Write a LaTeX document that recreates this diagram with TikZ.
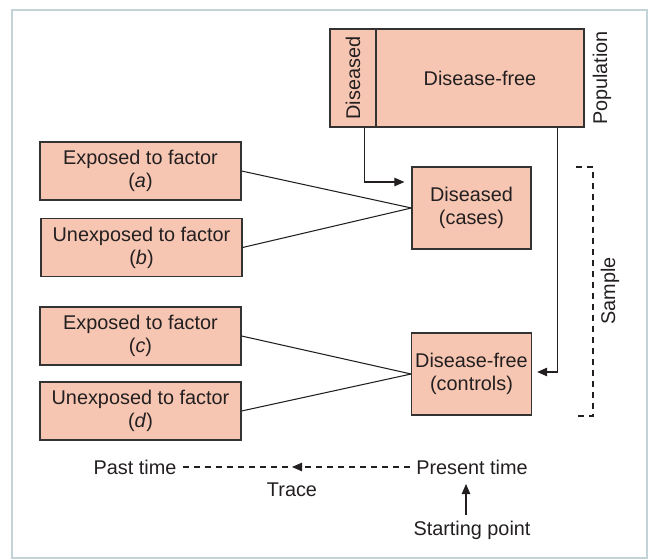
\documentclass[tikz,border=0pt]{standalone}
\usepackage{fontspec}
\setmainfont{Liberation Sans}
\usepackage{tikz}
\usetikzlibrary{arrows.meta}
\definecolor{boxfill}{HTML}{F6C6B2}
\definecolor{boxline}{HTML}{333333}
\definecolor{framecol}{HTML}{C3D3D8}
\definecolor{inkcol}{HTML}{231F20}

\begin{document}
\begin{tikzpicture}[x=0.02cm, y=-0.02cm, font=\fontsize{11.3}{13}\selectfont, text=inkcol,
    box/.style={draw=boxline, fill=boxfill, line width=0.7pt, align=center, inner sep=2pt},
    factorbox/.style={box, minimum width=4.02cm, minimum height=1.16cm},
    groupbox/.style={box, minimum width=2.38cm, minimum height=1.64cm},
    arr/.style={-{Triangle[length=2mm, width=1.7mm]}, line width=0.6pt, draw=inkcol},
    link/.style={line width=0.6pt, draw=inkcol},
    dash line/.style={dash pattern=on 0.12cm off 0.1cm, line width=0.6pt, draw=inkcol}]

                \useasboundingbox (0,0) rectangle (649,560);
                \draw[framecol, line width=1.2pt] (12,10) rectangle (647,558);

                % Nodes
                \node at (353,78) (dis) [box, minimum width=0.92cm, minimum height=1.96cm] {\rotatebox{90}{Diseased}};
                \node at (480,78) (free) [box, minimum width=4.16cm, minimum height=1.96cm] {Disease-free};
                \node at (602,78) (pop) [rotate=90] {Population};

                \node at (140.5,171) (a) [factorbox] {Exposed to factor\\(\textit{a})};
                \node at (141.5,247.5) (b) [factorbox] {Unexposed to factor\\(\textit{b})};
                \node at (140.5,336) (c) [factorbox] {Exposed to factor\\(\textit{c})};
                \node at (140.5,411) (d) [factorbox] {Unexposed to factor\\(\textit{d})};

                \node at (471.5,208) (cases) [groupbox] {Diseased\\(cases)};
                \node at (471.5,374) (controls) [groupbox] {Disease-free\\(controls)};

                \node at (610,291) (sample) [rotate=90] {Sample};

                \node at (135,467) (past) {Past time};
                \node at (472,467) (present) {Present time};
                \node at (292,490) (trace) {Trace};
                \node at (472,530) (start) {Starting point};

                % Arrows
                \draw[link] (a.east) -- (cases.west);
                \draw[link] (b.east) -- (cases.west);
                \draw[link] (c.east) -- (controls.west);
                \draw[link] (d.east) -- (controls.west);

                \draw[arr, shorten >=4pt] ([xshift=-0.24cm]dis.south east) |- ([yshift=0.52cm]cases.west);
                \draw[arr, shorten >=3pt] ([xshift=-0.54cm]free.south east) |- ([yshift=0.04cm]controls.east);

                % Sample bracket
                \draw[dash line] (576,167) -- (593,167) -- (593,416) -- (576,416);

                % Time line
                \draw[dash line] (past.east) -- (past.east -| trace.north);
                \draw[dash line, arr] (present.west) -- (past.east -| trace.north);
                \draw[arr, shorten >=2pt] ([xshift=-0.12cm]start.north) -- ([xshift=-0.12cm]present.south);

            \end{tikzpicture}
\end{document}
